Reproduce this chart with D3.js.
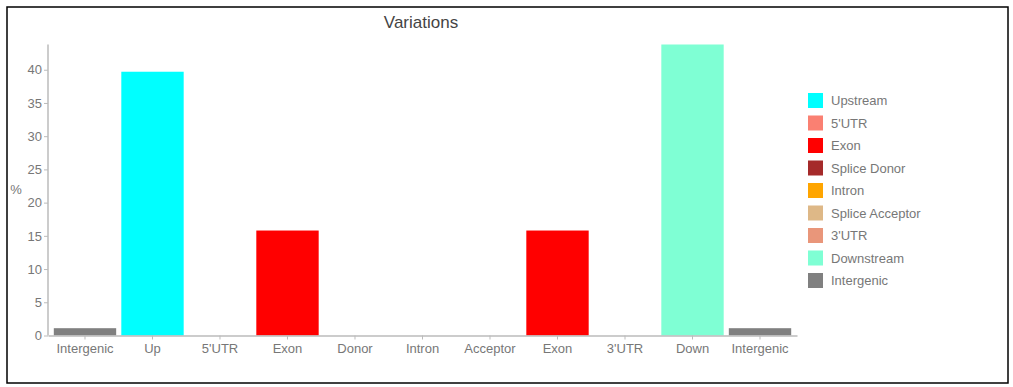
<!DOCTYPE html>
<html>
<head>
<meta charset="utf-8">
<script src="https://cdn.jsdelivr.net/npm/d3@7"></script>
<style>
  body { margin: 0; background: #fff; }
  text { font-family: "Liberation Sans", Arial, sans-serif; }
</style>
</head>
<body>
<div id="chart"></div>
<script>
// categories along the x axis, left to right
var categories = ["Intergenic", "Up", "5'UTR", "Exon", "Donor", "Intron", "Acceptor", "Exon", "3'UTR", "Down", "Intergenic"];
// percentage per category
var values = [1.1, 39.7, 0, 15.8, 0, 0, 0, 15.8, 0, 43.8, 1.1];
// which legend type each bar belongs to
var barTypes = ["Intergenic", "Upstream", "5'UTR", "Exon", "Splice Donor", "Intron", "Splice Acceptor", "Exon", "3'UTR", "Downstream", "Intergenic"];
// legend entries and their colours
var legendLabels = ["Upstream", "5'UTR", "Exon", "Splice Donor", "Intron", "Splice Acceptor", "3'UTR", "Downstream", "Intergenic"];
var legendColors = ["#00ffff", "#fa8072", "#ff0000", "#a52a2a", "#ffa500", "#deb887", "#e9967a", "#7fffd4", "#808080"];
var yTicks = [0, 5, 10, 15, 20, 25, 30, 35, 40];

var W = 1013, H = 387;
var margin = {left: 48, top: 44.5, right: 216, bottom: 51.5};

var svg = d3.select("#chart")
  .append("svg")
  .attr("width", W)
  .attr("height", H);

// frame round the chart
svg.append("rect")
  .attr("x", 7).attr("y", 7)
  .attr("width", 1001).attr("height", 376)
  .attr("fill", "none")
  .attr("stroke", "#000")
  .attr("stroke-width", 1.5);

var color = d3.scaleOrdinal().domain(legendLabels).range(legendColors);

// band scale on the index so the repeated names stay separate
var x = d3.scaleBand()
  .domain(d3.range(categories.length))
  .range([margin.left, W - margin.right])
  .paddingInner(0.076)
  .paddingOuter(0.086);

var y = d3.scaleLinear()
  .domain([0, d3.max(values)])
  .range([H - margin.bottom, margin.top]);

// title
svg.append("text")
  .attr("x", 421)
  .attr("y", 28)
  .attr("text-anchor", "middle")
  .attr("font-size", 17)
  .attr("fill", "#444")
  .text("Variations");

// bars
svg.append("g")
  .selectAll("rect")
  .data(values)
  .enter()
  .append("rect")
  .attr("x", function(d, i) { return x(i); })
  .attr("y", function(d) { return y(d); })
  .attr("width", x.bandwidth())
  .attr("height", function(d) { return y(0) - y(d); })
  .attr("fill", function(d, i) { return color(barTypes[i]); });

// y axis
var yAxis = svg.append("g")
  .attr("transform", "translate(" + margin.left + ",0)")
  .call(d3.axisLeft(y).tickValues(yTicks).tickSize(4).tickPadding(2));

// x axis
var xAxis = svg.append("g")
  .attr("transform", "translate(0," + y(0) + ")")
  .call(d3.axisBottom(x).tickFormat(function(i) { return categories[i]; }).tickSize(4).tickSizeOuter(0).tickPadding(4));

[yAxis, xAxis].forEach(function(ax) {
  ax.select(".domain").attr("stroke", "#bbb").attr("stroke-width", 1.5);
  ax.selectAll(".tick line").attr("stroke", "#bbb");
  ax.selectAll(".tick text")
    .attr("fill", "#777")
    .attr("font-size", 13)
    .attr("font-family", "'Liberation Sans', Arial, sans-serif");
});
yAxis.select(".domain").attr("d", "M0," + y(0) + "V" + margin.top);

// y label
svg.append("text")
  .attr("x", 16)
  .attr("y", 194)
  .attr("text-anchor", "middle")
  .attr("font-size", 13)
  .attr("fill", "#777")
  .text("%");

// legend
var legend = svg.append("g")
  .selectAll("g")
  .data(legendLabels)
  .enter()
  .append("g")
  .attr("transform", function(d, i) { return "translate(808," + (93 + i * 22.5) + ")"; });

legend.append("rect")
  .attr("width", 15)
  .attr("height", 15)
  .attr("fill", function(d) { return color(d); });

legend.append("text")
  .attr("x", 23)
  .attr("y", 12)
  .attr("font-size", 13)
  .attr("fill", "#777")
  .text(function(d) { return d; });
</script>
</body>
</html>
